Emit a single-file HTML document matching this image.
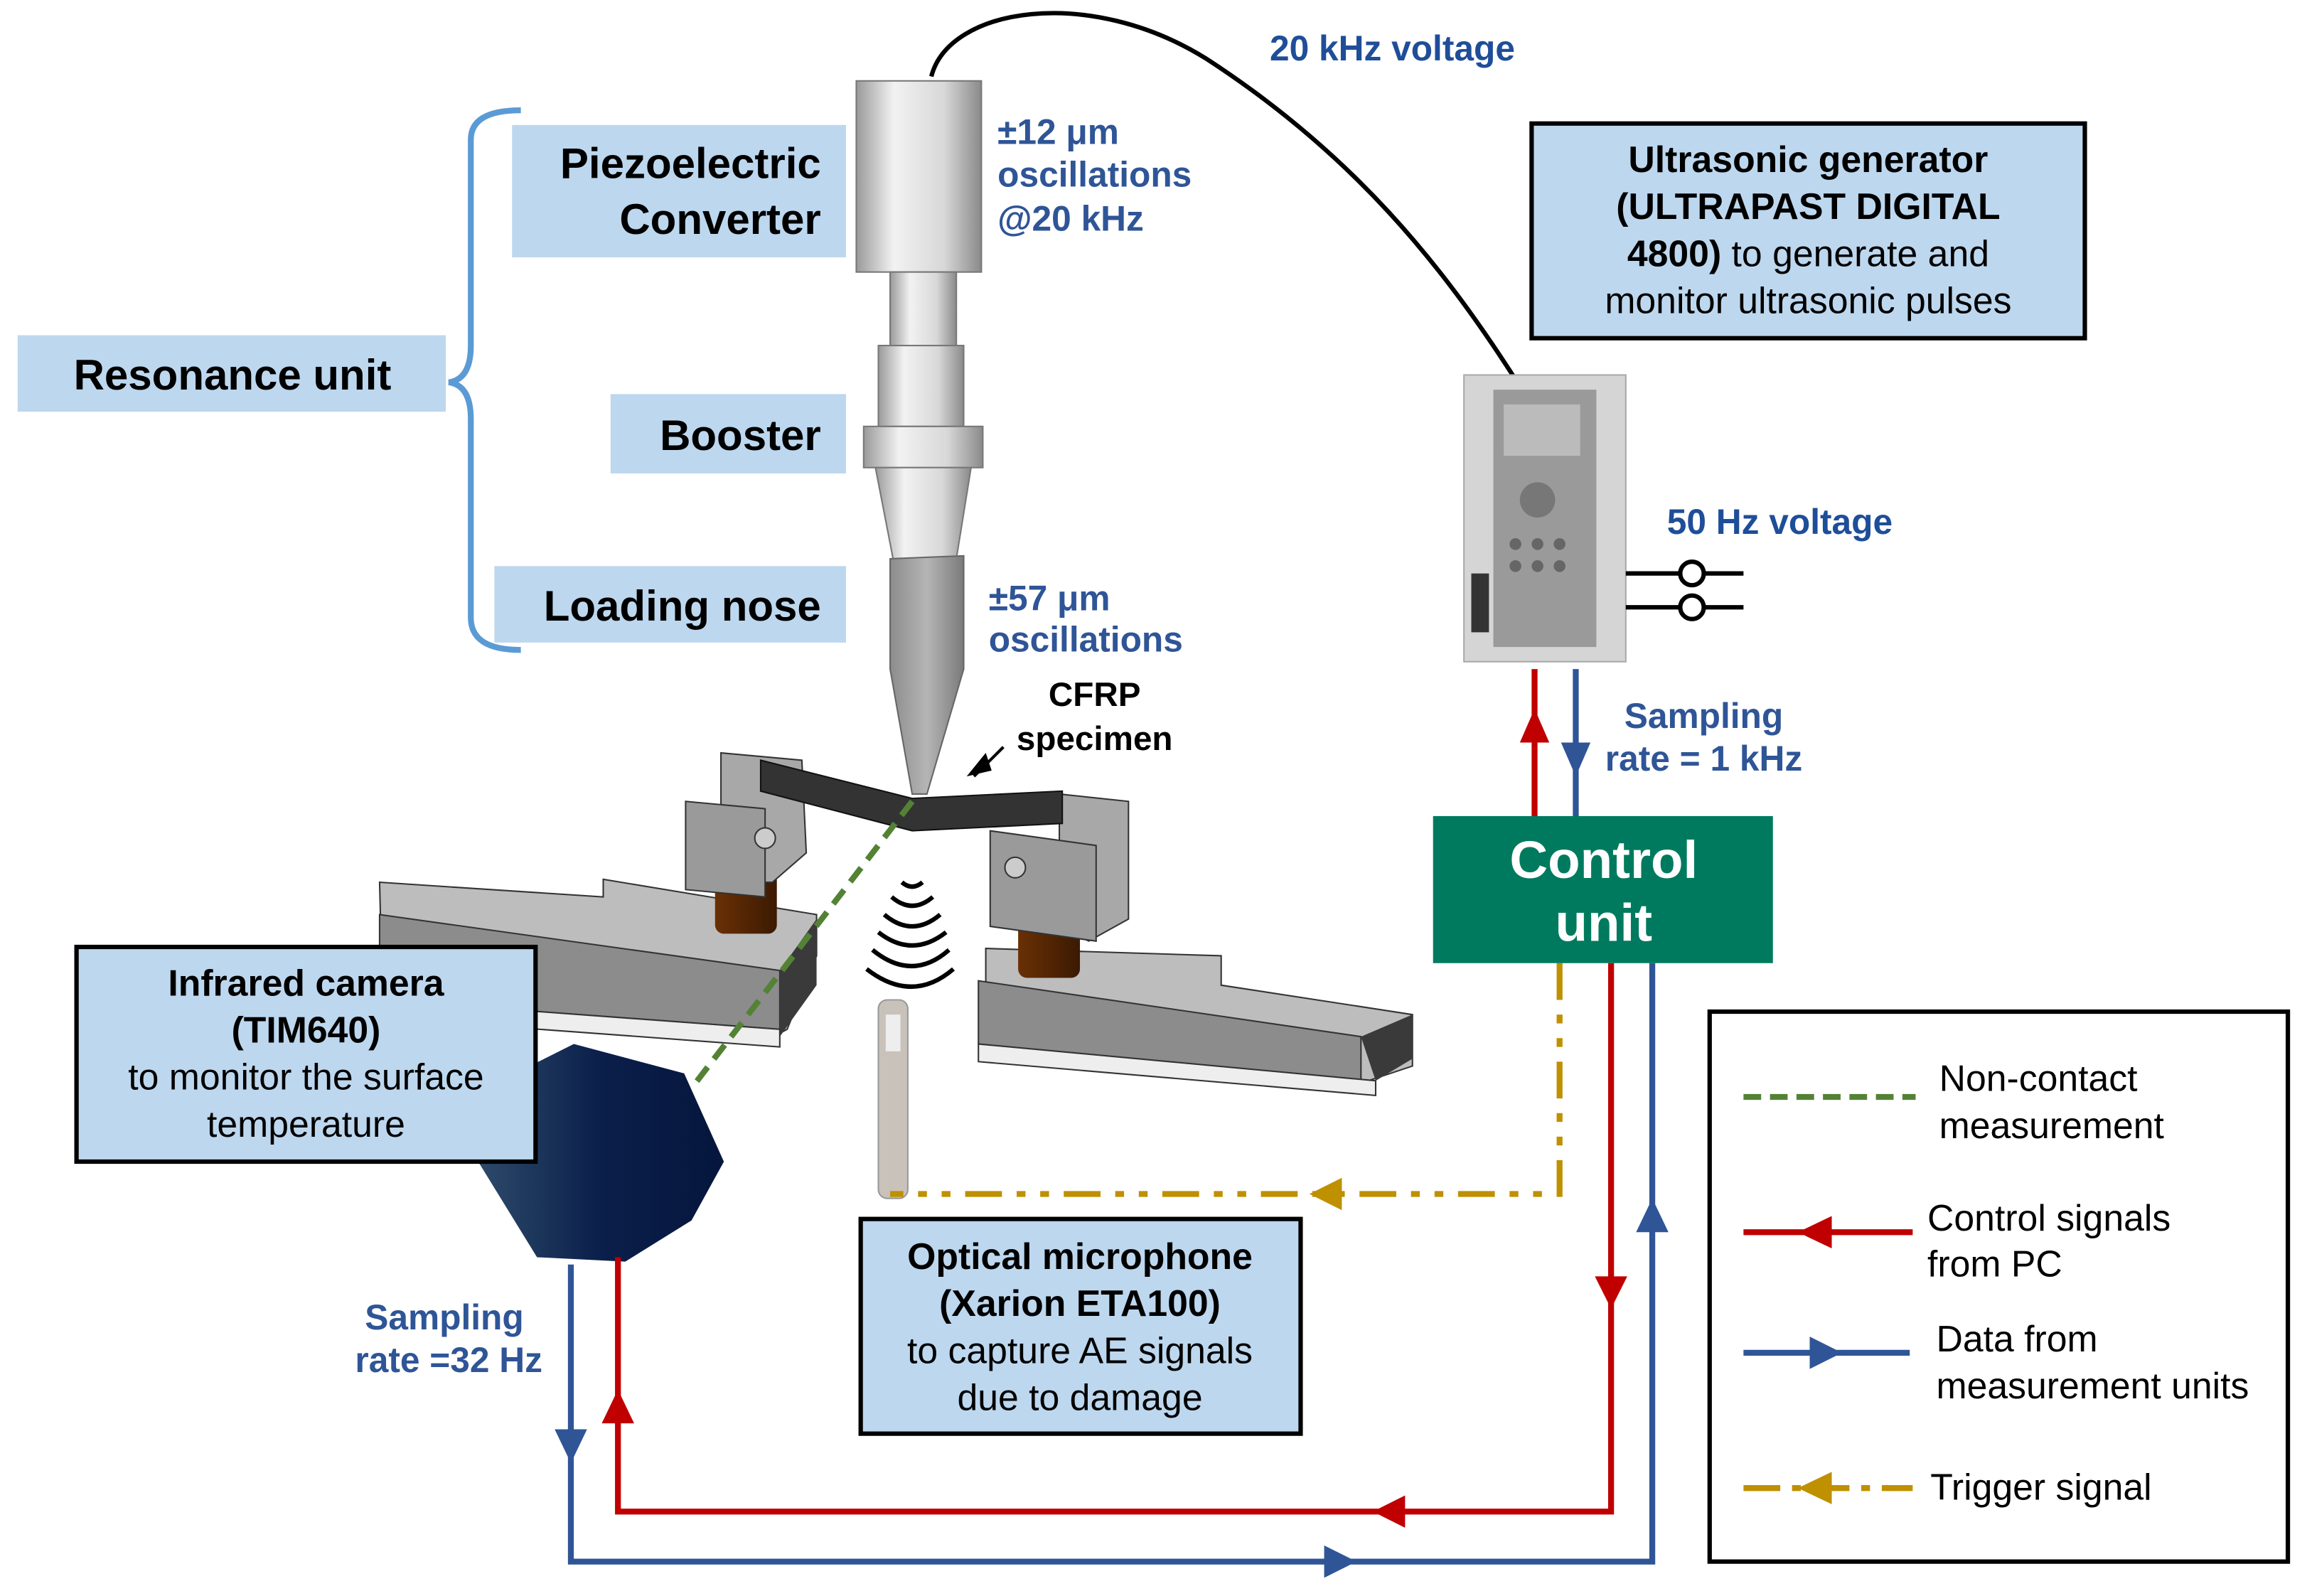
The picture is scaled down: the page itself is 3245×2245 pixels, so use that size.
<!DOCTYPE html>
<html><head><meta charset="utf-8"><style>
html,body{margin:0;padding:0;background:#fff}
svg{display:block}
text{font-family:"Liberation Sans",sans-serif}
</style></head><body>
<svg width="3245" height="2245" viewBox="0 0 1568 1085.4" preserveAspectRatio="none" xmlns="http://www.w3.org/2000/svg">
<defs>
<linearGradient id="cyl" x1="0" x2="1"><stop offset="0" stop-color="#9a9a9a"/><stop offset="0.3" stop-color="#f2f2f2"/><stop offset="0.7" stop-color="#d8d8d8"/><stop offset="1" stop-color="#8a8a8a"/></linearGradient>
<linearGradient id="nose" x1="0" x2="1"><stop offset="0" stop-color="#8c8c8c"/><stop offset="0.5" stop-color="#b5b5b5"/><stop offset="1" stop-color="#7a7a7a"/></linearGradient>
<linearGradient id="cam" x1="0" x2="1"><stop offset="0" stop-color="#2d4a6a"/><stop offset="0.5" stop-color="#0a1f4a"/><stop offset="1" stop-color="#06163d"/></linearGradient>
<linearGradient id="brn" x1="0" x2="1"><stop offset="0" stop-color="#6a3005"/><stop offset="1" stop-color="#3b1a02"/></linearGradient>
</defs>

<!-- cable -->
<path d="M633,52 C645,5 740,-10 820,40 C920,105 980,180 1030,258" fill="none" stroke="#000" stroke-width="3"/>

<!-- horn -->
<rect x="582" y="55" width="85" height="130" fill="url(#cyl)" stroke="#777"/>
<rect x="605" y="185" width="45" height="50" fill="url(#cyl)" stroke="#777"/>
<rect x="597" y="235" width="58" height="55" fill="url(#cyl)" stroke="#777"/>
<rect x="587" y="290" width="81" height="28" fill="url(#cyl)" stroke="#777"/>
<path d="M595,318 L660,318 L650,380 L607,380 Z" fill="url(#cyl)" stroke="#777"/>
<path d="M605,380 L655,378 L655,455 L630,540 L620,540 L605,455 Z" fill="url(#nose)" stroke="#666"/>

<!-- left fixture -->
<path d="M258,600 L410,610 L410,598 L555,622 L555,650 L535,700 L520,708 L260,680 Z" fill="#bdbdbd" stroke="#333"/>
<path d="M258,622 L530,660 L530,700 L258,680 Z" fill="#8c8c8c" stroke="#333"/>
<path d="M530,660 L555,625 L555,670 L530,705 Z" fill="#3a3a3a"/>
<path d="M258,680 L530,700 L530,712 L258,692 Z" fill="#eee" stroke="#333"/>
<rect x="486" y="590" width="42" height="45" rx="6" fill="url(#brn)"/>
<path d="M490,512 L545,517 L548,580 L525,600 L490,600 Z" fill="#a8a8a8" stroke="#333"/>
<path d="M466,545 L520,550 L520,610 L466,605 Z" fill="#9a9a9a" stroke="#333"/>
<circle cx="520" cy="570" r="7" fill="#ccc" stroke="#333"/>
<!-- right fixture -->
<path d="M670,645 L830,650 L830,670 L960,690 L960,725 L930,735 L670,712 Z" fill="#bdbdbd" stroke="#333"/>
<path d="M665,667 L925,705 L925,735 L665,710 Z" fill="#8c8c8c" stroke="#333"/>
<path d="M925,705 L960,690 L960,720 L935,735 Z" fill="#3a3a3a"/>
<path d="M665,710 L935,735 L935,745 L665,722 Z" fill="#eee" stroke="#333"/>
<rect x="692" y="625" width="42" height="40" rx="6" fill="url(#brn)"/>
<path d="M720,540 L767,545 L767,625 L740,640 L720,630 Z" fill="#a8a8a8" stroke="#333"/>
<path d="M673,565 L745,575 L745,640 L673,630 Z" fill="#9a9a9a" stroke="#333"/>
<circle cx="690" cy="590" r="7" fill="#ccc" stroke="#333"/>
<!-- specimen -->
<path d="M517,517 L620,543 L722,538 L722,560 L620,565 L517,538 Z" fill="#333" stroke="#111"/>
<path d="M662,528 L682,508" stroke="#000" stroke-width="2"/><path d="M657,528 L670,512 L674,524 Z" fill="#000"/>
<!-- waves -->
<g fill="none" stroke="#000" stroke-width="3">
<path d="M613,600 Q620,606 627,600"/><path d="M606,610 Q620,622 634,610"/><path d="M601,622 Q620,638 639,622"/>
<path d="M597,634 Q620,652 643,634"/><path d="M593,646 Q620,668 645,646"/><path d="M589,659 Q620,683 648,659"/>
</g>
<!-- microphone -->
<rect x="597" y="680" width="20" height="135" rx="6" fill="#c9c2bb" stroke="#999"/>
<rect x="602" y="690" width="10" height="25" fill="#eee"/>

<!-- IR camera -->
<path d="M390,710 L465,730 L492,790 L470,830 L425,858 L365,855 L325,790 L360,725 Z" fill="url(#cam)"/>

<!-- generator device -->
<rect x="995" y="255" width="110" height="195" fill="#d5d5d5" stroke="#aaa"/>
<rect x="1015" y="265" width="70" height="175" fill="#9a9a9a"/>
<rect x="1022" y="275" width="52" height="35" fill="#bbb"/>
<circle cx="1045" cy="340" r="12" fill="#777"/>
<g fill="#666"><circle cx="1030" cy="370" r="4"/><circle cx="1045" cy="370" r="4"/><circle cx="1060" cy="370" r="4"/><circle cx="1030" cy="385" r="4"/><circle cx="1045" cy="385" r="4"/><circle cx="1060" cy="385" r="4"/></g>
<rect x="1000" y="390" width="12" height="40" fill="#333"/>
<g stroke="#000" stroke-width="3" fill="#fff"><path d="M1105,390 H1185 M1105,413 H1185"/><circle cx="1150" cy="390" r="8"/><circle cx="1150" cy="413" r="8"/></g>

<!-- green dashed -->
<path d="M620,545 L470,740" stroke="#548235" stroke-width="4" stroke-dasharray="12,7" fill="none"/>

<!-- signal lines -->
<g fill="none" stroke-width="4">
<path d="M1043,555 V455" stroke="#c00000"/>
<path d="M1071,455 V555" stroke="#2f5597"/>
<path d="M1095,655 V1028 H420 V855" stroke="#c00000"/>
<path d="M1123,655 V1062 H388 V860" stroke="#2f5597"/>
<path d="M1060,655 V812 H605" stroke="#bf9000" stroke-dasharray="25,10,6,10,6,10"/>
</g>
<g>
<path d="M1043,482 L1033,505 L1053,505 Z" fill="#c00000"/>
<path d="M1071,528 L1061,505 L1081,505 Z" fill="#2f5597"/>
<path d="M1095,890 L1084,868 L1106,868 Z" fill="#c00000"/>
<path d="M933,1028 L955,1017 L955,1039 Z" fill="#c00000"/>
<path d="M420,945 L409,968 L431,968 Z" fill="#c00000"/>
<path d="M1123,815 L1112,838 L1134,838 Z" fill="#2f5597"/>
<path d="M922,1062 L900,1051 L900,1073 Z" fill="#2f5597"/>
<path d="M388,995 L377,972 L399,972 Z" fill="#2f5597"/>
<path d="M890,812 L912,801 L912,823 Z" fill="#bf9000"/>
</g>

<!-- brace -->
<path d="M354,75 Q320,75 320,95 V235 Q320,258 305,260 Q320,262 320,285 V420 Q320,442 354,442" fill="none" stroke="#5b9bd5" stroke-width="4"/>

<!-- label boxes -->
<g fill="#bdd7ee">
<rect x="348" y="85" width="227" height="90"/>
<rect x="12" y="228" width="291" height="52"/>
<rect x="415" y="268" width="160" height="54"/>
<rect x="336" y="385" width="239" height="52"/>
</g>
<g font-weight="bold" font-size="29" fill="#000">
<text x="558" y="121" text-anchor="end">Piezoelectric</text>
<text x="558" y="159" text-anchor="end">Converter</text>
<text x="158" y="265" text-anchor="middle">Resonance unit</text>
<text x="558" y="306" text-anchor="end">Booster</text>
<text x="558" y="422" text-anchor="end">Loading nose</text>
</g>

<g font-weight="bold" font-size="24" fill="#2f5597">
<text x="863" y="41" fill="#1f4e99">20 kHz voltage</text>
<text x="678" y="98" font-family="Liberation Serif,serif">±12 μm</text>
<text x="678" y="127">oscillations</text>
<text x="678" y="157">@20 kHz</text>
<text x="672" y="415" font-family="Liberation Serif,serif">±57 μm</text>
<text x="672" y="443">oscillations</text>
<text x="1133" y="363" fill="#1f4e99">50 Hz voltage</text>
<text x="1158" y="495" text-anchor="middle">Sampling</text>
<text x="1158" y="524" text-anchor="middle">rate = 1 kHz</text>
<text x="302" y="904" text-anchor="middle">Sampling</text>
<text x="305" y="933" text-anchor="middle">rate =32 Hz</text>
</g>
<g font-weight="bold" font-size="23" fill="#000">
<text x="744" y="480" text-anchor="middle">CFRP</text>
<text x="744" y="510" text-anchor="middle">specimen</text>
</g>

<!-- generator box -->
<rect x="1041" y="84" width="376" height="146" fill="#bdd7ee" stroke="#000" stroke-width="3"/>
<g font-size="25" fill="#000" text-anchor="middle">
<text x="1229" y="117" font-weight="bold">Ultrasonic generator</text>
<text x="1229" y="149" font-weight="bold">(ULTRAPAST DIGITAL</text>
<text x="1229" y="181"><tspan font-weight="bold">4800)</tspan> to generate and</text>
<text x="1229" y="213">monitor ultrasonic pulses</text>
</g>

<!-- control unit -->
<rect x="974" y="555" width="231" height="100" fill="#007a5e"/>
<g font-size="36" fill="#fff" text-anchor="middle" font-weight="bold">
<text x="1090" y="597">Control</text><text x="1090" y="640">unit</text>
</g>

<!-- IR camera box -->
<rect x="52" y="644" width="312" height="146" fill="#bdd7ee" stroke="#000" stroke-width="3"/>
<g font-size="25" fill="#000" text-anchor="middle">
<text x="208" y="677" font-weight="bold">Infrared camera</text>
<text x="208" y="709" font-weight="bold">(TIM640)</text>
<text x="208" y="741">to monitor the surface</text>
<text x="208" y="773">temperature</text>
</g>

<!-- optical mic box -->
<rect x="585" y="829" width="299" height="146" fill="#bdd7ee" stroke="#000" stroke-width="3"/>
<g font-size="25" fill="#000" text-anchor="middle">
<text x="734" y="863" font-weight="bold">Optical microphone</text>
<text x="734" y="895" font-weight="bold">(Xarion ETA100)</text>
<text x="734" y="927">to capture AE signals</text>
<text x="734" y="959">due to damage</text>
</g>

<!-- legend -->
<rect x="1162" y="688" width="393" height="374" fill="#fff" stroke="#000" stroke-width="3"/>
<path d="M1185,746 H1302" stroke="#548235" stroke-width="4" stroke-dasharray="12,6"/>
<path d="M1185,838 H1300" stroke="#c00000" stroke-width="4"/><path d="M1222,838 L1245,827 L1245,849 Z" fill="#c00000"/>
<path d="M1185,920 H1298" stroke="#2f5597" stroke-width="4"/><path d="M1252,920 L1230,909 L1230,931 Z" fill="#2f5597"/>
<path d="M1185,1012 H1300" stroke="#bf9000" stroke-width="4" stroke-dasharray="25,8,6,8"/><path d="M1222,1012 L1245,1001 L1245,1023 Z" fill="#bf9000"/>
<g font-size="25" fill="#000">
<text x="1318" y="742">Non-contact</text><text x="1318" y="774">measurement</text>
<text x="1310" y="837">Control signals</text><text x="1310" y="868">from PC</text>
<text x="1316" y="919">Data from</text><text x="1316" y="951">measurement units</text>
<text x="1312" y="1020">Trigger signal</text>
</g>
</svg>
</body></html>
